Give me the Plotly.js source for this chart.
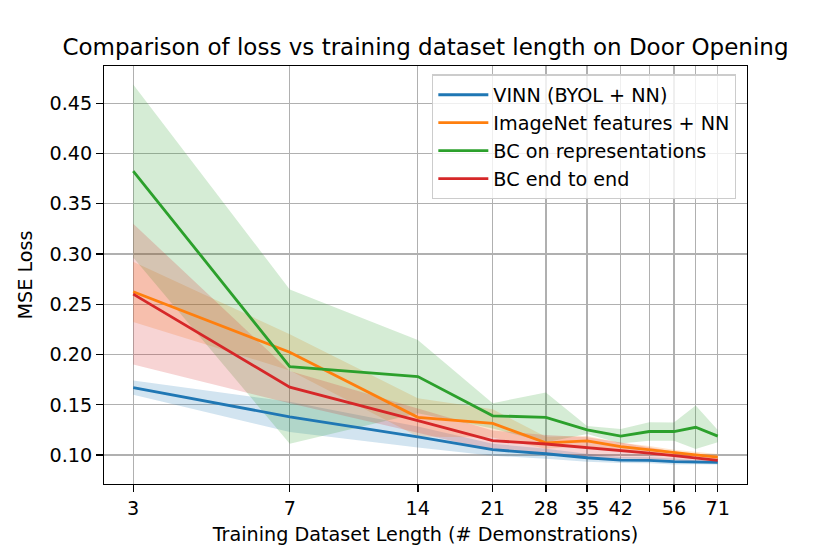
<!DOCTYPE html>
<html>
<head>
<meta charset="utf-8">
<script src="https://cdn.plot.ly/plotly-3.0.1.min.js"></script>
<style>html,body{margin:0;padding:0;background:#fff;}#chart{width:830px;height:554px;}</style>
</head>
<body>
<div id="chart"></div>
<script>
// Training dataset length (# demonstrations)
const lengths = [3, 7, 14, 21, 28, 35, 42, 49, 56, 63, 71];
const tickLabels = ['3', '7', '14', '21', '28', '35', '42', '', '56', '', '71'];
const yTicks = [0.10, 0.15, 0.20, 0.25, 0.30, 0.35, 0.40, 0.45];

const seriesNames = ['VINN (BYOL + NN)', 'ImageNet features + NN', 'BC on representations', 'BC end to end'];

const vinnMean = [0.1671, 0.1380, 0.1180, 0.1053, 0.1013, 0.0973, 0.0950, 0.0948, 0.0935, 0.0928, 0.0927];
const vinnStd  = [0.0070, 0.0150, 0.0105, 0.0060, 0.0050, 0.0040, 0.0030, 0.0030, 0.0030, 0.0020, 0.0020];

const imagenetMean = [0.2624, 0.2022, 0.1375, 0.1315, 0.1122, 0.1140, 0.1083, 0.1050, 0.1023, 0.1002, 0.0980];
const imagenetStd  = [0.0300, 0.0180, 0.0190, 0.0140, 0.0060, 0.0050, 0.0040, 0.0040, 0.0030, 0.0030, 0.0030];

const bcRepMean = [0.3825, 0.1880, 0.1780, 0.1390, 0.1375, 0.1250, 0.1188, 0.1234, 0.1234, 0.1276, 0.1188];
const bcRepStd  = [0.0860, 0.0768, 0.0365, 0.0126, 0.0248, 0.0040, 0.0072, 0.0092, 0.0091, 0.0216, 0.0060];

const bcE2eMean = [0.2601, 0.1675, 0.1343, 0.1143, 0.1110, 0.1076, 0.1046, 0.1020, 0.0995, 0.0967, 0.0946];
const bcE2eStd  = [0.0700, 0.0160, 0.0120, 0.0100, 0.0090, 0.0100, 0.0080, 0.0060, 0.0040, 0.0030, 0.0020];

const colors = ['#1f77b4', '#ff7f0e', '#2ca02c', '#d62728'];
const fills = ['rgba(31,119,180,0.2)', 'rgba(255,127,14,0.2)', 'rgba(44,160,44,0.2)', 'rgba(214,39,40,0.2)'];
const means = [vinnMean, imagenetMean, bcRepMean, bcE2eMean];
const stds = [vinnStd, imagenetStd, bcRepStd, bcE2eStd];

const traces = [];
// shaded bands first (under all lines)
means.forEach((m, i) => {
  const upper = m.map((v, k) => v + stds[i][k]);
  const lower = m.map((v, k) => v - stds[i][k]);
  traces.push({
    x: lengths.concat(lengths.slice().reverse()),
    y: upper.concat(lower.slice().reverse()),
    type: 'scatter', mode: 'lines', fill: 'toself',
    fillcolor: fills[i], line: {width: 0, color: 'rgba(0,0,0,0)'},
    hoverinfo: 'skip', showlegend: false
  });
});
means.forEach((m, i) => {
  traces.push({
    x: lengths, y: m, type: 'scatter', mode: 'lines', name: seriesNames[i],
    legendgroup: 'g' + i,
    line: {color: colors[i], width: 2.8}
  });
});

const font = {family: 'DejaVu Sans, sans-serif', size: 19.2, color: '#000'};
const layout = {
  width: 830, height: 554,
  margin: {l: 104, r: 83, t: 65.5, b: 69.7, pad: 0},
  paper_bgcolor: '#fff', plot_bgcolor: '#fff',
  font: font,
  title: {text: 'Comparison of loss vs training dataset length on Door Opening',
          font: {family: 'DejaVu Sans, sans-serif', size: 23, color: '#000'},
          x: 0.5, xref: 'paper', y: 0.915, yref: 'container', yanchor: 'middle'},
  xaxis: {
    type: 'log',
    range: [Math.log10(3) - 0.0687, Math.log10(71) + 0.0687],
    tickmode: 'array', tickvals: lengths, ticktext: tickLabels,
    ticks: 'outside', ticklen: 6.5, tickwidth: 1.4, tickcolor: '#000',
    showgrid: true, gridcolor: '#b0b0b0', gridwidth: 1.3,
    showline: true, linecolor: '#000', linewidth: 1.4, mirror: true,
    zeroline: false,
    tickfont: font,
    title: {text: 'Training Dataset Length (# Demonstrations)', font: font, standoff: 8}
  },
  yaxis: {
    range: [0.0712, 0.487],
    tickmode: 'array', tickvals: yTicks, tickformat: '.2f',
    ticks: 'outside', ticklen: 6.5, tickwidth: 1.4, tickcolor: '#000',
    showgrid: true, gridcolor: '#b0b0b0', gridwidth: 1.3,
    showline: true, linecolor: '#000', linewidth: 1.4, mirror: true,
    zeroline: false,
    tickfont: font,
    title: {text: 'MSE Loss', font: font, standoff: 12}
  },
  legend: {
    x: 0.51, y: 0.98, xanchor: 'left', yanchor: 'top',
    bgcolor: 'rgba(255,255,255,0.8)', bordercolor: '#cccccc', borderwidth: 1.4,
    font: font, tracegroupgap: 0, traceorder: 'grouped', itemwidth: 50
  },
  showlegend: true
};

Plotly.newPlot('chart', traces, layout, {displayModeBar: false, staticPlot: true});
</script>
</body>
</html>
